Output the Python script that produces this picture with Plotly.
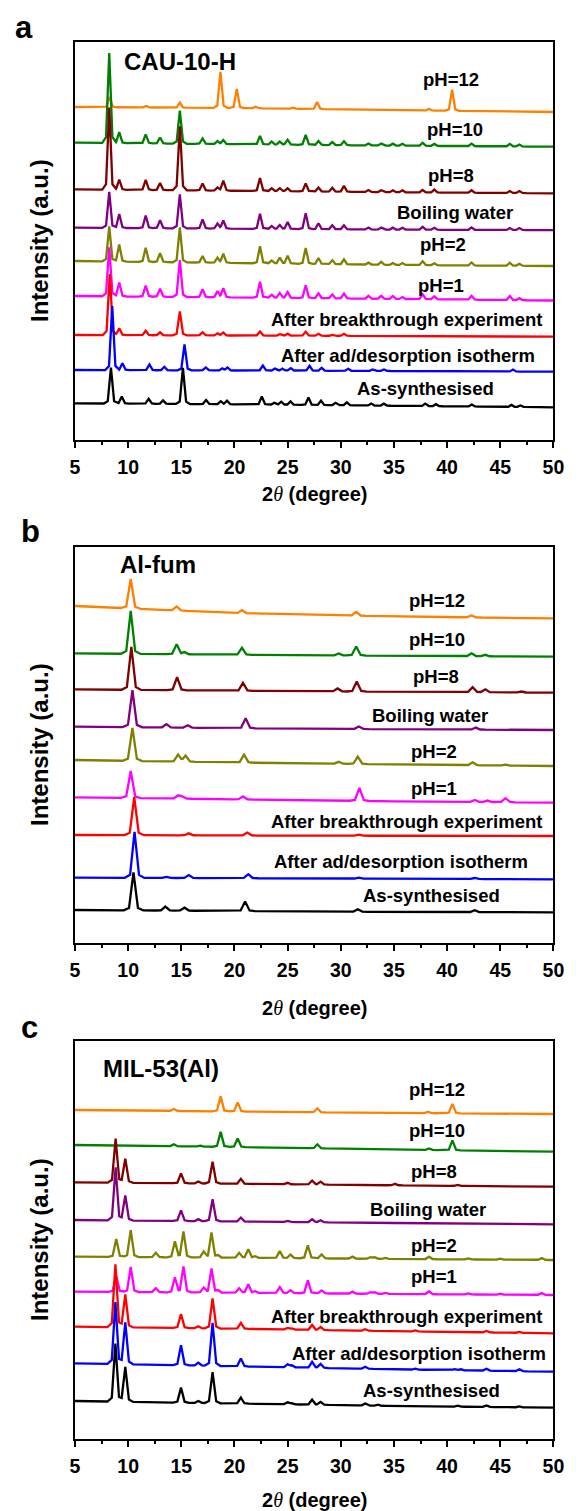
import numpy as np
import plotly.graph_objects as go

W, H = 579, 1511
FONT = "Liberation Sans"

SAMPLES = ["pH=12", "pH=10", "pH=8", "Boiling water", "pH=2", "pH=1",
           "After breakthrough experiment", "After ad/desorption isotherm",
           "As-synthesised"]
COLORS = ["#FF8000", "#008000", "#800000", "#800080", "#808000",
          "#FF00FF", "#FF0000", "#0000FF", "#000000"]

# baseline drift anchors (2-theta) shared by every pattern
BASE_X = [5, 20, 35, 50]

# ---------------- CAU-10-H ----------------
CAU_DRIFT = [[0, -1, -3, -5], [0, -1.5, -3, -4], [0, -1.5, -3, -4],
             [0, -1, -2, -2.5], [0, -2, -4, -5], [0, -1.5, -3, -4.5],
             [0, -0.5, -1, -1.7], [0, -0.5, -1, -1.7], [0, -1, -2.5, -4]]
CAU_COMMON = [8.22, 9.16, 11.65, 13.0, 14.86, 17.0, 18.4, 18.95, 22.4, 23.5,
              24.26, 25.0, 26.7, 27.9, 29.2, 30.3, 32.6, 33.8, 34.9, 35.8,
              37.7, 38.8, 42.3, 45.9, 46.8]
CAU_POS = [
    [8.25, 11.7, 14.86, 18.68, 20.22, 22.0, 25.5, 27.77, 38.3, 40.47],
    CAU_COMMON, CAU_COMMON, CAU_COMMON, CAU_COMMON, CAU_COMMON,
    [8.27, 9.16, 11.65, 13.0, 14.86, 17.0, 18.4, 18.95, 22.4, 24.26, 25.0,
     26.7, 27.9, 29.2, 30.3],
    [8.5, 9.46, 12.0, 13.4, 15.3, 17.3, 18.85, 19.35, 22.67, 23.8, 24.5,
     25.3, 27.06, 28.2, 30.7, 33.0, 34.06, 46.2],
    [8.38, 9.4, 11.93, 13.28, 15.15, 17.33, 18.7, 19.3, 22.57, 23.75, 24.4,
     25.27, 26.96, 28.14, 29.5, 30.57, 32.87, 34.05, 37.94, 38.95, 42.33,
     46.05, 46.9],
]
CAU_INT = [
    [10, 1.5, 5, 36, 19, 1.5, 1, 7, 1.5, 21],
    [90, 11, 9, 6, 33, 5.5, 3, 4, 8.5, 3, 3, 5, 10, 4, 3, 4, 2, 2, 2, 2, 3, 2, 2.5, 2.5, 2],
    [82, 10, 10, 7, 64, 7, 3, 10, 13, 3, 3, 3, 8, 4, 4, 6, 2, 2, 2, 2, 2.5, 3, 2.5, 2, 2],
    [36, 14, 12.7, 8, 34, 9, 5, 8, 15, 3, 4, 7, 16, 6, 4, 4, 2, 2, 2, 2, 3, 2, 2.5, 2, 2],
    [35, 17, 14, 9, 35, 6.5, 5, 9, 17, 3, 6, 8, 16, 6, 4, 5, 2, 3, 2, 2, 4, 2, 3, 3, 2],
    [49, 14, 11, 8, 37, 8, 6, 9, 16, 3, 5, 6, 13, 5, 4, 5, 3, 3, 3, 2, 5, 3, 4, 4, 2],
    [61, 7, 4.5, 3, 24, 3, 2, 3, 4, 1.5, 2, 4, 2, 1, 2],
    [64, 7, 5.7, 3.5, 26, 3, 2, 3, 5, 2, 2, 2.5, 5, 3, 2, 1.5, 1.5, 2],
    [36, 7, 5, 3.5, 36, 4, 3, 3.5, 8, 2, 3, 3.5, 7.5, 4.5, 2.5, 3, 2, 2, 2.5, 2, 2, 2, 1.5],
]

# ---------------- Al-fum ----------------
FUM_DRIFT = [[0, -7, -10.5, -12.3], [0, -1.5, -2.5, -3.4], [0, -1.5, -2.5, -3.4],
             [0, -1.5, -2.5, -3.3], [0, -2.5, -4.5, -6], [0, -2, -4, -5.3],
             [0, -0.5, -0.8, -1], [0, -0.5, -1, -1.6], [0, -1, -2, -2.3]]
FUM_POS = [
    [10.24, 14.56, 20.7, 31.45, 42.3],
    [10.24, 14.56, 15.3, 20.7, 29.8, 31.45, 42.3, 43.6],
    [10.3, 14.6, 20.8, 29.7, 31.5, 42.4, 43.6, 47.0],
    [10.4, 13.6, 15.6, 21.05, 31.7, 42.7],
    [10.4, 14.7, 15.4, 20.9, 29.8, 31.6, 42.4, 45.5],
    [10.24, 14.7, 15.1, 20.8, 31.75, 42.6, 43.8, 45.5],
    [10.57, 15.7, 21.2, 31.7],
    [10.6, 13.6, 15.7, 21.3, 31.7, 42.6],
    [10.5, 13.5, 15.3, 21.0, 31.6, 42.6],
]
FUM_INT = [
    [29.5, 4, 3, 4, 2],
    [43, 10, 2, 7, 2, 9, 3, 1.5],
    [43, 13, 8, 3, 10, 5, 3, 1],
    [37, 3.5, 2.5, 10, 2.5, 2],
    [33, 7, 6, 8, 2, 7.5, 3, 1],
    [27, 3, 2, 3, 13, 2, 1.5, 4],
    [38, 2, 3, 1],
    [46, 1, 3, 4, 1, 1],
    [38, 4, 3, 9.5, 2.5, 2],
]

# ---------------- MIL-53(Al) ----------------
MIL_DRIFT = [[0, -1.5, -3, -4], [0, -2, -4.5, -6.7], [0, -1.5, -3, -4.4],
             [0, -1.5, -3, -4.3], [0, -1, -2.3, -3.3], [0, -1, -2.3, -3.3],
             [0, -2, -4.5, -6.6], [0, -3, -6, -8.4], [0, -2.5, -5, -6.7]]
MIL_ACID = [8.88, 10.24, 12.6, 14.4, 15.2, 17.1, 17.84, 18.45, 20.44, 21.3,
            21.95, 24.26, 25.27, 26.9, 28.2, 31.1, 32.8, 33.2, 34.2, 38.3,
            42.0, 45.0, 48.9]
MIL_POS = [
    [14.3, 18.7, 20.3, 27.8, 38.2, 40.5],
    [14.3, 16.8, 18.7, 20.3, 27.8, 38.3, 40.5],
    [8.82, 9.73, 14.97, 16.6, 17.94, 20.6, 25.0, 27.3, 28.1, 35.1, 41.0],
    [8.82, 9.73, 14.97, 16.6, 17.94, 20.6, 25.0, 27.3, 28.1],
    MIL_ACID,
    MIL_ACID,
    [8.8, 9.73, 14.97, 16.6, 17.94, 20.6, 25.0, 25.4, 27.3, 28.1, 32.3, 37.0, 43.7, 46.8],
    [8.8, 9.73, 14.97, 16.6, 17.94, 20.6, 25.0, 25.4, 27.3, 28.1, 32.3, 37.0,
     40.7, 41.3, 43.7, 46.8],
    [8.8, 9.73, 14.97, 16.6, 17.94, 20.6, 25.0, 25.4, 27.3, 28.1, 32.3, 33.5,
     41.0, 43.7, 46.8],
]
MIL_INT = [
    [2, 15, 9, 4, 1.5, 9.5],
    [2, 1, 15, 8.5, 4, 1.5, 10],
    [44, 24, 10, 2, 22, 5, 1.5, 4, 3, 1.5, 1],
    [53, 25, 10.7, 2, 22, 4, 1, 3, 2],
    [18, 27, 4.5, 16, 26, 6, 25, 2, 5, 8.5, 1.5, 7, 3.5, 13, 4, 2, 1.5, 1.5, 1, 2.5, 1, 1, 2],
    [16, 25, 4, 15, 26, 5, 24, 2, 4.5, 8.5, 1.5, 6, 3, 13, 3, 2, 1.5, 1.5, 1, 3, 1, 1, 2],
    [63, 33, 14, 2, 30, 6, 1.5, 1, 5, 3, 1.5, 1, 1.5, 1],
    [62, 42, 20, 3, 43, 8, 3, 2, 6, 4, 2, 1, 1, 1, 2, 2],
    [58, 35, 15, 2, 31, 6, 2, 1, 5, 3, 2, 1, 1, 1.5, 1],
]

TICKS = [5, 10, 15, 20, 25, 30, 35, 40, 45, 50]

# ---------------- layout geometry (pixels) ----------------
PLOT_L, PLOT_R = 72, 564
PANELS = [
    dict(letter="a", name="CAU-10-H", pos=CAU_POS, ints=CAU_INT, drift=CAU_DRIFT,
         top=42, bottom=440, width=0.3,
         offsets=[333, 297.3, 250.7, 212.3, 179, 144, 105, 70, 36.7],
         letter_xy=(20, 27), name_xy=(180, 62), xtitle_y=494,
         labels=[(459, 80), (463, 130), (459, 175.7), (463, 212.3), (450, 244.3),
                 (448, 285), (413, 319.3), (414, 355.7), (432, 388.3)]),
    dict(letter="b", name="Al-fum", pos=FUM_POS, ints=FUM_INT, drift=FUM_DRIFT,
         top=547, bottom=943, width=0.42,
         offsets=[337, 289.7, 253.7, 216.3, 183, 145.7, 108, 65.3, 33],
         letter_xy=(26, 531), name_xy=(157, 564), xtitle_y=1008,
         labels=[(444.6, 600), (444.6, 640), (443, 676.7), (437, 715), (441, 751.7),
                 (441, 788.3), (413, 821.7), (407.7, 861.7), (439, 895.7)]),
    dict(letter="c", name="MIL-53(Al)", pos=MIL_POS, ints=MIL_INT, drift=MIL_DRIFT,
         top=1041, bottom=1439, width=0.34,
         offsets=[329, 294, 256.7, 219, 182.3, 147.3, 112.3, 75.7, 38],
         letter_xy=(25, 1027), name_xy=(160.5, 1068.3), xtitle_y=1500,
         labels=[(444.6, 1089.3), (444.6, 1130), (441, 1171.7), (435.4, 1209),
                 (441, 1245), (441, 1276.7), (413, 1316), (426, 1353.3), (439, 1390)]),
]

# reflection profile: narrow core on a broader foot (half-widths in units of w)
CORE, FOOT, FOOT_SHARE = 1.0, 2.2, 0.12


def px_x(x):
    return x / W


def px_y(y):
    return 1 - y / H


def pattern(pos, ints, drift, w):
    """Piecewise-linear profile: drifting baseline plus peaked reflections."""
    knots = set(BASE_X)
    for p in pos:
        knots.update((p - FOOT * w, p - CORE * w, p, p + CORE * w, p + FOOT * w))
    xs = np.array(sorted(k for k in knots if BASE_X[0] <= k <= BASE_X[-1]))
    ys = np.interp(xs, BASE_X, drift)
    for p, h in zip(pos, ints):
        d = np.abs(xs - p)
        core = np.clip(1 - d / (CORE * w), 0, None)
        foot = np.clip(1 - d / (FOOT * w), 0, None)
        ys = ys + h * ((1 - FOOT_SHARE) * core + FOOT_SHARE * foot)
    return xs, ys


fig = go.Figure()
annotations = []
layout_axes = {}

for k, pn in enumerate(PANELS):
    sfx = "" if k == 0 else str(k + 1)
    xa, ya = "x" + sfx, "y" + sfx
    for i in range(len(SAMPLES)):
        xs, ys = pattern(pn["pos"][i], pn["ints"][i], pn["drift"][i], pn["width"])
        fig.add_trace(go.Scatter(
            x=xs, y=ys + pn["offsets"][i], mode="lines",
            line=dict(color=COLORS[i], width=2.3),
            xaxis=xa, yaxis=ya, showlegend=False, hoverinfo="skip"))
        lx, ly = pn["labels"][i]
        annotations.append(dict(
            text=SAMPLES[i], x=px_x(lx), y=px_y(ly), xref="paper", yref="paper",
            xanchor="center", yanchor="middle", showarrow=False,
            font=dict(family=FONT, size=18.5, color="black", weight="bold")))

    dom_y = [px_y(pn["bottom"]), px_y(pn["top"])]
    layout_axes["xaxis" + sfx] = dict(
        domain=[px_x(PLOT_L), px_x(PLOT_R)], range=[5, 50], anchor=ya,
        tickmode="array", tickvals=TICKS, ticktext=[str(t) for t in TICKS],
        ticks="outside", ticklen=6, tickwidth=1.8, tickcolor="black",
        showline=True, linewidth=1.8, linecolor="black", mirror=True,
        showgrid=False, zeroline=False, ticklabelstandoff=3,
        tickfont=dict(family=FONT, size=19.5, color="black", weight="bold"),
        minor=dict(tickmode="linear", tick0=5, dtick=2.5, ticks="outside",
                   ticklen=3.5, tickwidth=1.5, tickcolor="black", showgrid=False))
    layout_axes["yaxis" + sfx] = dict(
        domain=dom_y, range=[0, pn["bottom"] - pn["top"]], anchor=xa,
        showticklabels=False, ticks="", showline=True, linewidth=1.8,
        linecolor="black", mirror=True, showgrid=False, zeroline=False)

    cy = (pn["top"] + pn["bottom"]) / 2
    annotations += [
        dict(text=pn["letter"], x=px_x(pn["letter_xy"][0]), y=px_y(pn["letter_xy"][1]),
             xref="paper", yref="paper", xanchor="center", yanchor="middle",
             showarrow=False, font=dict(family=FONT, size=31, color="black", weight="bold")),
        dict(text=pn["name"], x=px_x(pn["name_xy"][0]), y=px_y(pn["name_xy"][1]),
             xref="paper", yref="paper", xanchor="center", yanchor="middle",
             showarrow=False, font=dict(family=FONT, size=24, color="black", weight="bold")),
        dict(text="Intensity (a.u.)", x=px_x(35), y=px_y(cy), textangle=-90,
             xref="paper", yref="paper", xanchor="center", yanchor="middle",
             showarrow=False, font=dict(family=FONT, size=24, color="black", weight="bold")),
        dict(text='2<span style="font-family:Liberation Serif;font-weight:normal"><i>θ</i></span> (degree)',
             x=px_x((PLOT_L + PLOT_R) / 2), y=px_y(pn["xtitle_y"]),
             xref="paper", yref="paper", xanchor="center", yanchor="middle",
             showarrow=False, font=dict(family=FONT, size=20, color="black", weight="bold")),
    ]

fig.update_layout(
    width=W, height=H, margin=dict(l=0, r=0, t=0, b=0),
    paper_bgcolor="white", plot_bgcolor="white",
    annotations=annotations, **layout_axes)

fig.write_html("out.html")
